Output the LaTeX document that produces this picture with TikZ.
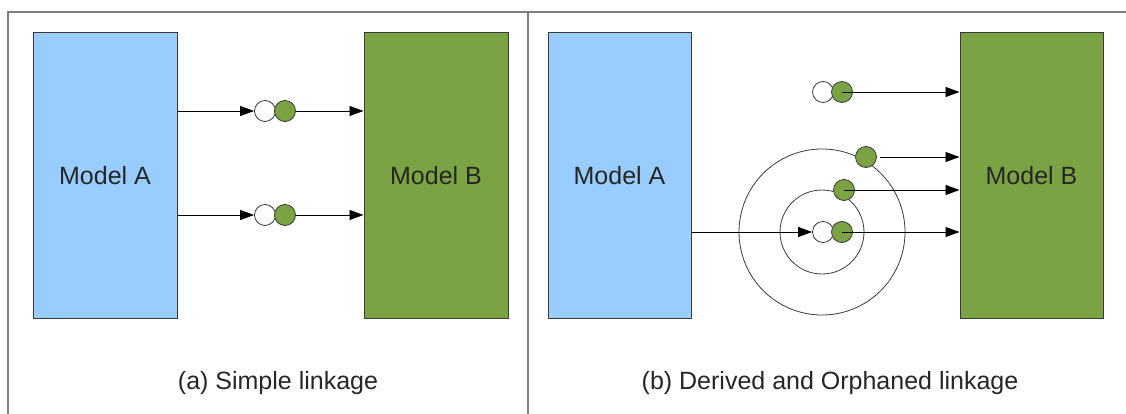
\documentclass[tikz,border=0pt]{standalone}
\usepackage{fontspec}
\setmainfont{Liberation Sans}
\usetikzlibrary{arrows.meta}
\definecolor{boxblue}{HTML}{99CCFF}
\definecolor{boxgreen}{HTML}{7BA344}
\definecolor{framegray}{HTML}{808080}
\definecolor{edgegray}{HTML}{3A3A3A}
\begin{document}
\begin{tikzpicture}[x=1pt,y=-1pt,
  every node/.style={font=\fontsize{25}{30}\selectfont, text=black!85},
  modelbox/.style={draw=edgegray, line width=1pt, minimum width=144pt, minimum height=285pt, inner sep=0pt},
  bluebox/.style={modelbox, fill=boxblue},
  greenbox/.style={modelbox, fill=boxgreen},
  wdot/.style={circle, draw=edgegray, line width=0.8pt, fill=white, minimum size=21pt, inner sep=0pt},
  gdot/.style={circle, draw=edgegray, line width=0.8pt, fill=boxgreen, minimum size=21pt, inner sep=0pt},
  ring/.style={circle, draw=edgegray, line width=0.8pt, inner sep=0pt},
  arr/.style={draw=black, line width=0.9pt, -{Triangle[length=14pt,width=10pt]}},
  framel/.style={draw=framegray, line width=2pt}
]
\useasboundingbox (0,0) rectangle (1126,414);
% frame
\coordinate (f1) at (8,414);
\coordinate (f2) at (8,12.5);
\coordinate (f3) at (1126,12.5);
\coordinate (d1) at (528,12.5);
\coordinate (d2) at (528,414);
\draw[framel] (f1) -- (f2) -- (f3);
\draw[framel] (d1) -- (d2);

% ---- panel (a)
\node[bluebox] (a1) at (105,175.5) {Model A};
\node[greenbox] (b1) at (436,175.5) {Model B};
\node[wdot] (w1) at (265,111) {};
\node[gdot] (g1) at (285,111) {};
\node[wdot] (w2) at (265,215) {};
\node[gdot] (g2) at (285,215) {};
\draw[arr] (a1.east |- w1) -- (w1.west);
\draw[arr] (g1.east) -- (b1.west |- g1);
\draw[arr] (a1.east |- w2) -- (w2.west);
\draw[arr] (g2.east) -- (b1.west |- g2);
\node (capa) at (278,383) {(a) Simple linkage};

% ---- panel (b)
\node[bluebox, minimum width=143pt] (a2) at (619.5,175.5) {Model A};
\node[greenbox, minimum width=143pt] (b2) at (1031.5,175.5) {Model B};
\node[ring, minimum size=166pt] (rout) at (822,232) {};
\node[ring, minimum size=84pt] (rin) at (822,232) {};
% orphan
\node[wdot] (wo) at (823,92) {};
\node[gdot] (go) at (842,92) {};
% derived
\node[gdot] (gd1) at (866,157) {};
\node[gdot] (gd2) at (844,190) {};
% base link
\node[wdot] (w3) at (823,232) {};
\node[gdot] (g3) at (842,232) {};
\draw[arr] (go.center) -- (b2.west |- go);
\draw[arr, shorten <=3pt] (gd1.east) -- (b2.west |- gd1);
\draw[arr] (gd2.center) -- (b2.west |- gd2);
\draw[arr] (a2.east |- w3) -- (w3.west);
\draw[arr] (g3.center) -- (b2.west |- g3);
\node (capb) at (830,383) {(b) Derived and Orphaned linkage};
\end{tikzpicture}
\end{document}
